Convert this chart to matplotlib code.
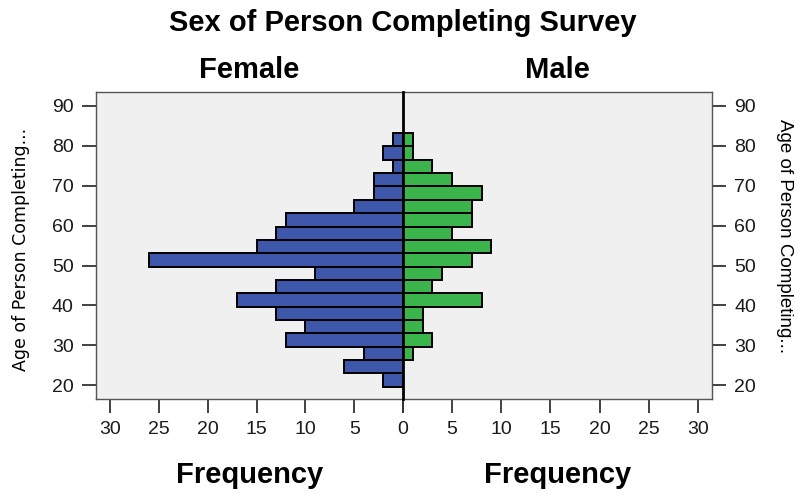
import matplotlib
matplotlib.use("Agg")
import matplotlib.pyplot as plt

plt.rcParams['font.family'] = ['Liberation Sans', 'DejaVu Sans']

# Age bin centres (bottom to top) and frequencies
age_centers = [21.32, 24.67, 28.01, 31.36, 34.70, 38.05, 41.39, 44.74, 48.08,
               51.43, 54.77, 58.12, 61.46, 64.81, 68.15, 71.50, 74.84, 78.19, 81.53]
bin_width = 3.345
female = [2, 6, 4, 12, 10, 13, 17, 13, 9, 26, 15, 13, 12, 5, 3, 3, 1, 2, 1]
male = [0, 0, 1, 3, 2, 2, 8, 3, 4, 7, 9, 5, 7, 7, 8, 5, 3, 1, 1]
x_ticks = [0, 5, 10, 15, 20, 25, 30]
y_ticks = [20, 30, 40, 50, 60, 70, 80, 90]

title = "Sex of Person Completing Survey"
panel_titles = ["Female", "Male"]
x_label = "Frequency"
y_label = "Age of Person Completing..."

blue = '#3F57AA'
green = '#3BB44B'
bg = '#F0F0F0'
frame = '#555555'

W, H = 797, 494
fig = plt.figure(figsize=(W / 100, H / 100), dpi=100)
bottom = 1 - 399 / H
height = 307 / H
axL = fig.add_axes([96 / W, bottom, 307 / W, height])
axR = fig.add_axes([403 / W, bottom, 309 / W, height], sharey=axL)

axL.barh(age_centers, female, height=bin_width, color=blue, edgecolor='black',
         linewidth=1.4, zorder=3)
axR.barh(age_centers, male, height=bin_width, color=green, edgecolor='black',
         linewidth=1.4, zorder=3)

xmax = 31.45
axL.set_xlim(xmax, 0)
axR.set_xlim(0, xmax)
axL.set_ylim(16.57, 93.5)

for ax in (axL, axR):
    ax.set_facecolor(bg)
    for s in ax.spines.values():
        s.set_color(frame)
        s.set_linewidth(1.0)
    ax.set_xticks(x_ticks)
    ax.tick_params(axis='both', length=10, width=1.3, color='#333333',
                   labelsize=14, labelcolor='#1a1a1a', pad=6)

axL.spines['right'].set_visible(False)
axR.spines['left'].set_color('black')
axR.spines['left'].set_linewidth(2.0)
axR.spines['left'].set_zorder(6)

axL.set_xticklabels([str(v) for v in x_ticks])
axR.set_xticklabels([''] + [str(v) for v in x_ticks[1:]])

axL.set_yticks(y_ticks)
axL.yaxis.set_ticks_position('left')
axR.yaxis.set_ticks_position('right')
axR.tick_params(axis='y', labelleft=False, labelright=True)

fig.text(403 / W, 1 - 23 / H, title, ha='center', va='center',
         fontsize=21, fontweight='bold')
fig.text(249.5 / W, 1 - 70 / H, panel_titles[0], ha='center', va='center',
         fontsize=21, fontweight='bold')
fig.text(557.5 / W, 1 - 70 / H, panel_titles[1], ha='center', va='center',
         fontsize=21, fontweight='bold')
fig.text(249.5 / W, 1 - 475 / H, x_label, ha='center', va='center',
         fontsize=21, fontweight='bold')
fig.text(557.5 / W, 1 - 475 / H, x_label, ha='center', va='center',
         fontsize=21, fontweight='bold')
fig.text(21 / W, 1 - 249 / H, y_label, ha='center', va='center',
         rotation=90, fontsize=12.5, family=['DejaVu Sans'])
fig.text(785 / W, 1 - 236 / H, y_label, ha='center', va='center',
         rotation=-90, fontsize=13.5)

fig.savefig('out.png', dpi=100, facecolor='white')
